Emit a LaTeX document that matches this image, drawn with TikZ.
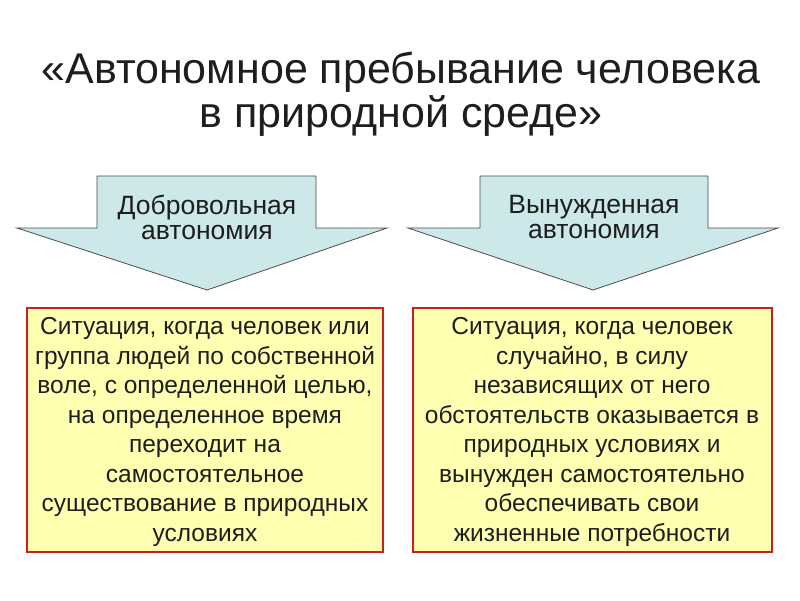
\documentclass[tikz,border=0pt]{standalone}
\usepackage{fontspec}
\setmainfont{Liberation Sans}
\definecolor{arrowfill}{RGB}{204,232,232}
\definecolor{boxfill}{RGB}{255,255,178}
\definecolor{boxline}{RGB}{204,30,30}
\definecolor{txt}{RGB}{30,30,30}
\begin{document}
\begin{tikzpicture}[x=1pt,y=-1pt,
  arr/.style={draw=black!70,fill=arrowfill,line width=0.8pt},
  box/.style={draw=boxline,fill=boxfill,line width=1.3pt},
  btxt/.style={text=txt,align=center,font=\fontsize{24.5}{29.5}\selectfont},
  atxt/.style={text=txt,align=center,font=\fontsize{26.5}{25}\selectfont}]
\useasboundingbox[fill=white] (0,0) rectangle (800,600);
\node[text=txt,align=center,font=\fontsize{43}{44}\selectfont] (title) at (401,94) {«Автономное пребывание человека\\в природной среде»};
\draw[arr] (97,176) -- (316,176) -- (316,228) -- (387,228) -- (207,290) -- (17,228) -- (97,228) -- cycle;
\draw[arr] (480,176) -- (708,176) -- (708,228) -- (778,228) -- (593,290) -- (408,228) -- (480,228) -- cycle;
\node[atxt] (a1) at (207,217) {Добровольная\\автономия};
\node[atxt] (a2) at (594,217) {Вынужденная\\автономия};
\draw[box] (27,308) rectangle (383,552);
\draw[box] (413,308) rectangle (772,552);
\node[btxt] (b1) at (205,432) {Ситуация, когда человек или\\группа людей по собственной\\воле, с определенной целью,\\на определенное время\\переходит на\\самостоятельное\\существование в природных\\условиях};
\node[btxt] (b2) at (592,432) {Ситуация, когда человек\\случайно, в силу\\независящих от него\\обстоятельств оказывается в\\природных условиях и\\вынужден самостоятельно\\обеспечивать свои\\жизненные потребности};
\end{tikzpicture}
\end{document}
